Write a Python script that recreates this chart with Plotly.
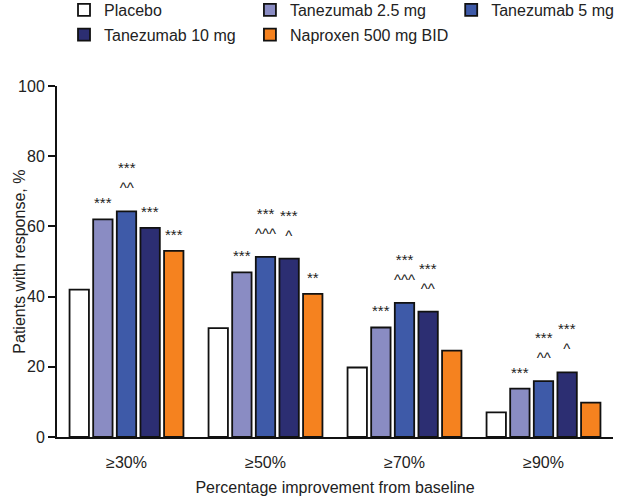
import plotly.graph_objects as go

categories = ["≥30%", "≥50%", "≥70%", "≥90%"]
series_names = ["Placebo", "Tanezumab 2.5 mg", "Tanezumab 5 mg", "Tanezumab 10 mg", "Naproxen 500 mg BID"]
placebo = [42.0, 31.0, 19.8, 7.0]
tan_2_5 = [62.0, 46.9, 31.2, 13.8]
tan_5 = [64.3, 51.3, 38.2, 15.9]
tan_10 = [59.6, 50.8, 35.7, 18.4]
naproxen = [53.0, 40.8, 24.6, 9.8]
values = [placebo, tan_2_5, tan_5, tan_10, naproxen]

stars_placebo = ["", "", "", ""]
stars_2_5 = ["***", "***", "***", "***"]
stars_5 = ["***<br>^^", "***<br>^^^", "***<br>^^^", "***<br>^^"]
stars_10 = ["***", "***<br>^", "***<br>^^", "***<br>^"]
stars_nap = ["***", "**", "", ""]
stars = [stars_placebo, stars_2_5, stars_5, stars_10, stars_nap]

colors = ["#ffffff", "#8a8cc3", "#3e5aa8", "#2c2e72", "#f5821f"]
legends = ["legend", "legend2", "legend3", "legend", "legend2"]

FONT = "Arial, Liberation Sans, sans-serif"
TXT = "#222222"
bargap = 0.15
bargroupgap = 0.18

fig = go.Figure()
for i, name in enumerate(series_names):
    fig.add_trace(go.Bar(
        x=categories, y=values[i], name=name,
        marker=dict(color=colors[i], line=dict(color="#111111", width=1.8)),
        legend=legends[i], legendgroup=name, hoverinfo="skip",
    ))

n = len(series_names)
slot = (1 - bargap) / n
annotations = []
for i in range(n):
    for g in range(len(categories)):
        txt = stars[i][g]
        if not txt:
            continue
        two = "<br>" in txt
        annotations.append(dict(
            x=g + (i - (n - 1) / 2) * slot, y=values[i][g], xref="x", yref="y",
            text=txt, showarrow=False, yanchor="bottom", xanchor="center",
            yshift=13 if two else 6,
            font=dict(family=FONT, size=15, color=TXT),
        ))

annotations.append(dict(
    x=-0.068, y=0.5, xref="paper", yref="paper", text="Patients with response, %",
    textangle=-90, showarrow=False, xanchor="center", yanchor="middle",
    font=dict(family=FONT, size=16, color=TXT),
))

leg_common = dict(font=dict(family=FONT, size=16, color=TXT), orientation="v",
                  yanchor="top", xanchor="left", bgcolor="rgba(0,0,0,0)", tracegroupgap=1)
LEG_Y = 1.0 + 93 / 351.0

fig.update_layout(
    width=619, height=498,
    margin=dict(l=57, r=6, t=86, b=61, autoexpand=False),
    paper_bgcolor="white", plot_bgcolor="white",
    font=dict(family=FONT, size=16, color=TXT),
    barmode="group", bargap=bargap, bargroupgap=bargroupgap,
    hovermode=False,
    legend=dict(x=0.0126, y=LEG_Y, **leg_common),
    legend2=dict(x=0.347, y=LEG_Y, **leg_common),
    legend3=dict(x=0.709, y=LEG_Y, **leg_common),
    annotations=annotations,
    xaxis=dict(
        type="category", range=[-0.5, 3.5], automargin=False,
        showline=True, linecolor="#111111", linewidth=2,
        ticks="outside", ticklen=10, tickcolor="rgba(0,0,0,0)",
        tickfont=dict(family=FONT, size=16, color=TXT),
        title=dict(text="Percentage improvement from baseline", font=dict(family=FONT, size=16, color=TXT), standoff=12),
        showgrid=False, zeroline=False,
    ),
    yaxis=dict(
        range=[0, 100], tickmode="array", tickvals=[0, 20, 40, 60, 80, 100], automargin=False,
        showline=True, linecolor="#111111", linewidth=2,
        ticks="outside", ticklen=7, tickwidth=1.5, tickcolor="#111111",
        tickfont=dict(family=FONT, size=16, color=TXT),
        showgrid=False, zeroline=False,
    ),
)

fig.write_html(
    "out.html",
    config={"displayModeBar": False},
    post_script="document.body.style.margin='0';document.body.style.overflow='hidden';",
)
